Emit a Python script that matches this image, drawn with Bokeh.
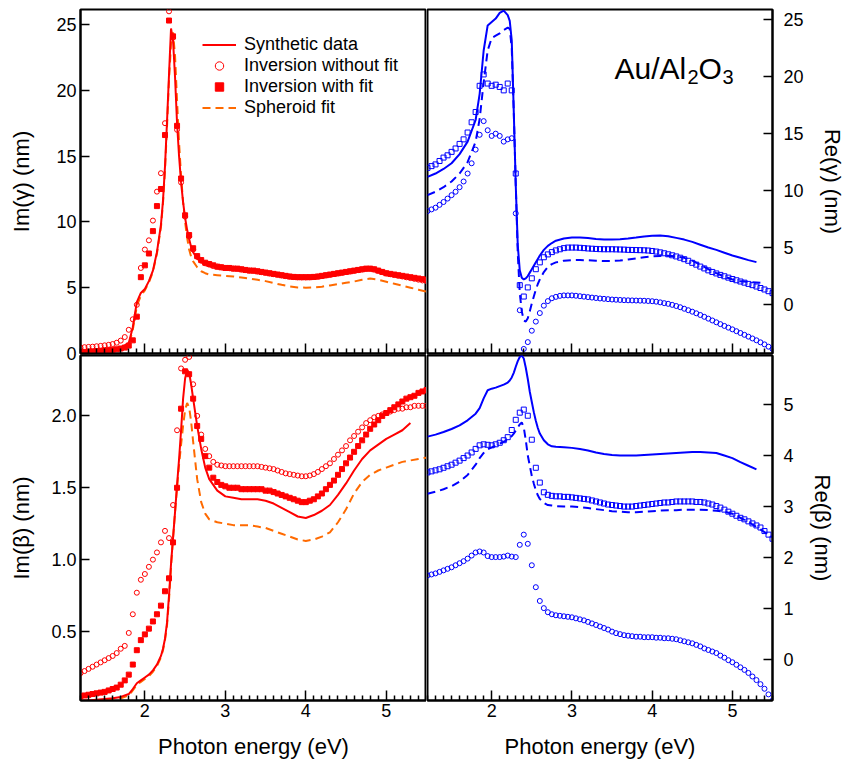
import numpy as np
from bokeh.plotting import figure
from bokeh.layouts import column, row
from bokeh.models import FixedTicker, Legend, LegendItem, Label, Range1d, PrintfTickFormatter
from bokeh.embed import file_html
from bokeh.resources import INLINE

FONT = "Liberation Sans"
RED = "#ff0000"
ORANGE = "#ff6a00"
BLUE = "#0000ff"

# ---------------- data ----------------
# photon energy grid of the smooth curves (eV)
line_energy = [1.2, 1.3, 1.4, 1.5, 1.6, 1.7, 1.8,
               1.85, 1.9, 1.95, 2.0, 2.05, 2.1, 2.15, 2.2,
               2.225, 2.25, 2.275, 2.3, 2.325, 2.35, 2.375, 2.4, 2.425, 2.45, 2.475, 2.5, 2.525, 2.55, 2.575, 2.6,
               2.65, 2.7, 2.75, 2.8,
               2.9, 3.0, 3.1, 3.2, 3.3, 3.4, 3.5, 3.6, 3.7, 3.8, 3.9, 4.0, 4.1, 4.2, 4.3, 4.4, 4.5, 4.6, 4.7, 4.8,
               4.9, 5.0, 5.1, 5.2, 5.3, 5.4, 5.5]

# photon energy grid of the inversion points (eV)
point_energy = [1.2, 1.25, 1.3, 1.35, 1.4, 1.45, 1.5, 1.55, 1.6, 1.65,
                1.7, 1.75, 1.8, 1.85, 1.9, 1.95, 2.0, 2.05, 2.1, 2.15,
                2.2, 2.25, 2.3, 2.35, 2.4, 2.45, 2.5, 2.55, 2.6, 2.65,
                2.7, 2.75, 2.8, 2.85, 2.9, 2.95, 3.0, 3.05, 3.1, 3.15,
                3.2, 3.25, 3.3, 3.35, 3.4, 3.45, 3.5, 3.55, 3.6, 3.65,
                3.7, 3.75, 3.8, 3.85, 3.9, 3.95, 4.0, 4.05, 4.1, 4.15,
                4.2, 4.25, 4.3, 4.35, 4.4, 4.45, 4.5, 4.55, 4.6, 4.65,
                4.7, 4.75, 4.8, 4.85, 4.9, 4.95, 5.0, 5.05, 5.1, 5.15,
                5.2, 5.25, 5.3, 5.35, 5.4, 5.45, 5.5]

# ---- Im(gamma) ----
im_gamma_synthetic = [0.15, 0.17, 0.2, 0.24, 0.3, 0.42, 0.8,
                      2.0, 3.9, 4.6, 4.9, 5.5, 6.3, 7.7, 9.8,
                      11.6, 14.2, 17.6, 21.2, 24.7, 23.8, 21.0, 17.5, 15.0, 13.0, 11.5, 10.3, 9.4, 8.7, 8.1, 7.7,
                      7.2, 6.95, 6.8, 6.7,
                      6.6, 6.5, 6.45, 6.4, 6.3, 6.25, 6.15, 6.05, 5.95, 5.85, 5.8, 5.8, 5.82, 5.9, 6.0, 6.1, 6.2, 6.3,
                      6.4, 6.45, 6.3, 6.1, 6.0, 5.9, 5.8, 5.7, 5.6]
im_gamma_spheroid = [0.05, 0.07, 0.1, 0.13, 0.18, 0.3, 0.65,
                     1.8, 3.6, 4.4, 4.8, 5.4, 6.2, 7.6, 9.6,
                     11.4, 13.9, 17.2, 20.8, 23.5, 24.4, 22.6, 19.2, 16.0, 13.5, 11.5, 10.0, 8.8, 7.9, 7.35, 7.0,
                     6.55, 6.25, 6.1, 6.0,
                     5.95, 5.9, 5.85, 5.78, 5.7, 5.6, 5.5, 5.35, 5.22, 5.1, 5.02, 5.0, 5.02, 5.08, 5.17, 5.27, 5.37,
                     5.47, 5.6, 5.7, 5.6, 5.45, 5.3, 5.15, 5.0, 4.85, 4.7]
im_gamma_without_fit = [0.45, 0.48, 0.5, 0.52, 0.55, 0.58, 0.62, 0.66, 0.72, 0.82,
                        0.98, 1.25, 1.8, 2.6, 3.7, 6.5, 7.9, 8.6, 10.1, 12.3,
                        13.7, 17.5, 26.0, 24.0, 17.0, 13.0, 10.4, 8.9, 7.9, 7.35,
                        7.05, 6.85, 6.75, 6.65, 6.6, 6.55, 6.5, 6.48, 6.45, 6.42,
                        6.38, 6.34, 6.3, 6.27, 6.23, 6.18, 6.13, 6.08, 6.03, 5.98,
                        5.93, 5.88, 5.84, 5.81, 5.79, 5.78, 5.78, 5.79, 5.81, 5.84,
                        5.88, 5.93, 5.98, 6.03, 6.08, 6.13, 6.18, 6.23, 6.28, 6.33,
                        6.38, 6.42, 6.43, 6.38, 6.28, 6.18, 6.08, 6.02, 5.96, 5.9,
                        5.85, 5.79, 5.73, 5.67, 5.61, 5.55, 5.5]
im_gamma_with_fit = [0.10, 0.12, 0.14, 0.16, 0.18, 0.20, 0.22, 0.25, 0.28, 0.32,
                     0.38, 0.45, 0.60, 1.0, 2.8, 5.8, 6.7, 7.6, 9.3, 11.2,
                     12.5, 16.6, 25.3, 24.1, 17.3, 13.3, 10.5, 9.0, 8.0, 7.4,
                     7.1, 6.9, 6.8, 6.7, 6.6, 6.55, 6.5, 6.5, 6.45, 6.45,
                     6.4, 6.35, 6.3, 6.3, 6.25, 6.2, 6.15, 6.1, 6.05, 6.0,
                     5.95, 5.9, 5.85, 5.82, 5.8, 5.8, 5.8, 5.8, 5.82, 5.85,
                     5.9, 5.95, 6.0, 6.05, 6.1, 6.15, 6.2, 6.25, 6.3, 6.35,
                     6.4, 6.45, 6.45, 6.4, 6.3, 6.2, 6.1, 6.05, 6.0, 5.95,
                     5.9, 5.85, 5.8, 5.75, 5.7, 5.65, 5.6]

# ---- Re(gamma) ----
re_gamma_synthetic = [11.2, 11.5, 11.9, 12.4, 13.2, 14.3, 16.2,
                      18.5, 22.3, 24.5, 24.8, 25.1, 25.6, 25.8, 25.4,
                      24.9, 23.2, 17.0, 10.5, 5.2, 3.0, 2.35, 2.2, 2.3, 2.5, 2.8, 3.1, 3.4, 3.7, 4.0, 4.3,
                      4.8, 5.15, 5.4, 5.6,
                      5.8, 5.88, 5.88, 5.83, 5.75, 5.7, 5.7, 5.73, 5.8, 5.88, 5.97, 6.03, 6.05, 6.0, 5.85, 5.7, 5.5,
                      5.25, 5.0, 4.8, 4.55, 4.3, 4.1, 3.9, 3.72, None, None]
re_gamma_spheroid = [9.6, 9.9, 10.3, 10.8, 11.5, 12.5, 14.3,
                     16.3, 19.5, 22.3, 23.4, 23.6, 23.8, 24.1, 24.3,
                     24.2, 22.5, 17.0, 10.5, 4.5, 1.0, -0.6, -1.4, -1.5, -1.2, -0.6, 0.1, 0.7, 1.3, 1.8, 2.2,
                     2.85, 3.3, 3.55, 3.7,
                     3.85, 3.9, 3.9, 3.88, 3.85, 3.82, 3.82, 3.86, 3.95, 4.05, 4.15, 4.22, 4.27, 4.28, 4.22, 4.1,
                     3.85, 3.5, 3.1, 2.75, 2.45, 2.2, 2.05, 1.98, 1.93, 1.88, None]
re_gamma_without_fit = [8.2, 8.35, 8.5, 8.75, 9.0, 9.3, 9.6, 9.9, 10.3, 10.8,
                        11.5, 12.4, 13.6, 14.9, 16.1, 15.3, 14.8, 15.0, 14.8, 14.3,
                        14.5, 14.6, 8.0, -0.5, -3.9, -3.3, -2.3, -1.5, -0.75, -0.1,
                        0.3, 0.55, 0.67, 0.76, 0.8, 0.8, 0.8, 0.77, 0.73, 0.69,
                        0.65, 0.61, 0.57, 0.53, 0.5, 0.47, 0.44, 0.42, 0.4, 0.38,
                        0.37, 0.36, 0.35, 0.34, 0.33, 0.31, 0.29, 0.25, 0.19, 0.12,
                        0.06, -0.03, -0.13, -0.24, -0.37, -0.5, -0.63, -0.77, -0.92, -1.08,
                        -1.24, -1.4, -1.56, -1.72, -1.88, -2.03, -2.18, -2.34, -2.5, -2.66,
                        -2.82, -2.98, -3.14, -3.32, -3.5, -3.7, -3.9]
re_gamma_with_fit = [12.0, 12.15, 12.3, 12.6, 12.9, 13.1, 13.4, 13.7, 14.1, 14.5,
                     15.1, 16.0, 16.9, 19.2, 20.2, 19.4, 19.2, 19.3, 19.1, 18.8,
                     19.4, 18.8, 11.5, 1.7, 0.7, 1.5, 2.3, 3.1, 3.7, 4.15,
                     4.4, 4.6, 4.75, 4.85, 4.95, 5.0, 5.0, 5.0, 4.98, 4.95,
                     4.92, 4.9, 4.88, 4.86, 4.85, 4.85, 4.85, 4.84, 4.83, 4.82,
                     4.8, 4.79, 4.78, 4.77, 4.76, 4.74, 4.7, 4.65, 4.58, 4.5,
                     4.41, 4.32, 4.22, 4.11, 3.98, 3.84, 3.66, 3.5, 3.33, 3.17,
                     3.0, 2.86, 2.73, 2.6, 2.48, 2.36, 2.24, 2.13, 2.02, 1.92,
                     1.81, 1.7, 1.58, 1.45, 1.32, 1.17, 1.0]

# ---- Im(beta) ----
im_beta_synthetic = [0.02, 0.02, 0.025, 0.03, 0.035, 0.045, 0.065,
                     0.1, 0.14, 0.16, 0.18, 0.2, 0.23, 0.27, 0.33,
                     0.38, 0.45, 0.56, 0.75, 0.97, 1.15, 1.33, 1.52, 1.7, 1.9, 2.12, 2.26, 2.32, 2.3, 2.22, 2.12,
                     1.93, 1.77, 1.64, 1.56,
                     1.48, 1.44, 1.43, 1.42, 1.42, 1.42, 1.41, 1.39, 1.36, 1.33, 1.3, 1.29, 1.31, 1.34, 1.38, 1.45,
                     1.53, 1.62, 1.7, 1.76, 1.8, 1.84, 1.87, 1.9, 1.95, None, None]
im_beta_spheroid = [0.01, 0.012, 0.015, 0.02, 0.025, 0.035, 0.055,
                    0.09, 0.13, 0.15, 0.17, 0.19, 0.22, 0.26, 0.32,
                    0.37, 0.44, 0.54, 0.72, 0.95, 1.15, 1.33, 1.5, 1.66, 1.8, 1.93, 2.04, 2.09, 2.06, 1.96, 1.82,
                    1.56, 1.4, 1.32, 1.28,
                    1.26, 1.25, 1.24, 1.24, 1.24, 1.23, 1.22, 1.2, 1.18, 1.16, 1.14, 1.13, 1.14, 1.16, 1.19, 1.26,
                    1.35, 1.46, 1.54, 1.59, 1.62, 1.64, 1.66, 1.68, 1.69, 1.7, 1.71]
im_beta_without_fit = [0.21, 0.225, 0.24, 0.255, 0.27, 0.285, 0.3, 0.315, 0.33, 0.35,
                       0.38, 0.4, 0.49, 0.62, 0.77, 0.86, 0.9, 0.95, 1.0, 1.05,
                       1.12, 1.2, 1.15, 1.38, 1.9, 2.33, 2.39, 2.41, 2.22, 2.0,
                       1.87, 1.77, 1.72, 1.68, 1.66, 1.655, 1.65, 1.65, 1.65, 1.65,
                       1.65, 1.65, 1.65, 1.65, 1.65, 1.645, 1.64, 1.635, 1.63, 1.62,
                       1.61, 1.6, 1.595, 1.59, 1.585, 1.58, 1.58, 1.585, 1.595, 1.61,
                       1.63, 1.65, 1.67, 1.7, 1.73, 1.76, 1.79, 1.83, 1.86, 1.89,
                       1.92, 1.95, 1.97, 1.99, 2.0, 2.01, 2.02, 2.03, 2.04, 2.05,
                       2.05, 2.06, 2.06, 2.07, 2.07, 2.07, 2.07]
im_beta_with_fit = [0.05, 0.055, 0.06, 0.065, 0.07, 0.075, 0.08, 0.09, 0.1, 0.11,
                    0.13, 0.16, 0.2, 0.27, 0.37, 0.44, 0.48, 0.52, 0.57, 0.62,
                    0.68, 0.78, 0.87, 1.12, 1.5, 2.05, 2.31, 2.29, 2.12, 1.93,
                    1.84, 1.72, 1.64, 1.57, 1.54, 1.52, 1.51, 1.5, 1.5, 1.5,
                    1.49, 1.49, 1.49, 1.49, 1.49, 1.49, 1.48, 1.48, 1.47, 1.46,
                    1.45, 1.44, 1.43, 1.42, 1.41, 1.4, 1.4, 1.41, 1.42, 1.44,
                    1.46, 1.49, 1.52, 1.55, 1.59, 1.63, 1.67, 1.71, 1.75, 1.79,
                    1.83, 1.87, 1.91, 1.94, 1.97, 2.0, 2.02, 2.04, 2.06, 2.08,
                    2.1, 2.12, 2.13, 2.14, 2.16, 2.17, 2.18]

# ---- Re(beta) ----
re_beta_synthetic = [4.37, 4.41, 4.46, 4.52, 4.59, 4.69, 4.82,
                     4.93, 5.12, 5.28, 5.31, 5.33, 5.36, 5.39, 5.43,
                     5.47, 5.53, 5.62, 5.74, 5.85, 5.93, 5.96, 5.9, 5.72, 5.5, 5.25, 5.05, 4.85, 4.68, 4.54, 4.43,
                     4.3, 4.22, 4.18, 4.17,
                     4.16, 4.15, 4.13, 4.1, 4.06, 4.03, 4.01, 4.0, 4.0, 4.0, 4.01, 4.02, 4.03, 4.04, 4.05, 4.06,
                     4.07, 4.07, 4.06, 4.05, 4.0, 3.95, 3.87, 3.8, 3.73, None, None]
re_beta_spheroid = [3.25, 3.29, 3.34, 3.4, 3.49, 3.62, 3.82,
                    3.95, 4.05, 4.12, 4.16, 4.19, 4.23, 4.27, 4.31,
                    4.34, 4.38, 4.43, 4.49, 4.55, 4.61, 4.65, 4.55, 4.3, 4.0, 3.8, 3.6, 3.45, 3.32, 3.22, 3.15,
                    3.07, 3.03, 3.02, 3.01,
                    3.0, 3.0, 2.99, 2.97, 2.95, 2.93, 2.91, 2.9, 2.89, 2.89, 2.9, 2.91, 2.92, 2.93, 2.93, 2.94,
                    2.94, 2.94, 2.93, 2.92, 2.9, 2.86, 2.78, 2.7, 2.6, 2.5, 2.4]
re_beta_without_fit = [1.65, 1.67, 1.69, 1.72, 1.75, 1.78, 1.81, 1.85, 1.89, 1.93,
                       1.98, 2.04, 2.1, 2.12, 2.1, 2.03, 2.01, 2.01, 2.01, 2.02,
                       2.04, 2.02, 2.01, 2.25, 2.45, 2.27, 1.85, 1.42, 1.15, 1.01,
                       0.93, 0.89, 0.87, 0.86, 0.85, 0.84, 0.83, 0.81, 0.79, 0.77,
                       0.74, 0.71, 0.68, 0.65, 0.62, 0.59, 0.55, 0.52, 0.5, 0.48,
                       0.47, 0.46, 0.45, 0.45, 0.44, 0.44, 0.44, 0.43, 0.43, 0.42,
                       0.42, 0.41, 0.4, 0.38, 0.36, 0.34, 0.32, 0.29, 0.26, 0.22,
                       0.19, 0.16, 0.13, 0.08, 0.04, -0.01, -0.05, -0.1, -0.15, -0.2,
                       -0.26, -0.33, -0.4, -0.48, -0.57, -0.68, -0.8]
re_beta_with_fit = [3.67, 3.69, 3.71, 3.73, 3.76, 3.79, 3.82, 3.86, 3.9, 3.95,
                    4.0, 4.06, 4.13, 4.2, 4.22, 4.21, 4.2, 4.22, 4.25, 4.3,
                    4.36, 4.5, 4.7, 4.84, 4.9, 4.78, 4.31, 3.76, 3.47, 3.28,
                    3.23, 3.21, 3.2, 3.2, 3.19, 3.19, 3.18, 3.17, 3.16, 3.15,
                    3.14, 3.12, 3.1, 3.08, 3.06, 3.04, 3.03, 3.02, 3.01, 3.0,
                    3.0, 3.0, 3.01, 3.02, 3.03, 3.04, 3.05, 3.06, 3.07, 3.08,
                    3.08, 3.09, 3.1, 3.1, 3.1, 3.1, 3.1, 3.09, 3.09, 3.08,
                    3.06, 3.04, 3.01, 2.98, 2.94, 2.9, 2.86, 2.82, 2.78, 2.75,
                    2.71, 2.67, 2.63, 2.59, 2.52, 2.45, 2.37]

x_major_ticks = [2, 3, 4, 5]
im_gamma_ticks = [0, 5, 10, 15, 20, 25]
re_gamma_ticks = [0, 5, 10, 15, 20, 25]
im_beta_ticks = [0.5, 1.0, 1.5, 2.0]
re_beta_ticks = [0, 1, 2, 3, 4, 5]

# ---------------- helpers ----------------
minor_x = [round(1.2 + 0.1 * i, 1) for i in range(44)]
minor_x = [v for v in minor_x if v not in x_major_ticks]

TICK_FS = "18px"
LABEL_FS = "22px"
OVERLAP = 12   # extra room below the upper panels so that the "0" label is not cut


def arr(v):
    return np.array(v, dtype=float)


def make_panel(yrange, frame_w, frame_h, side, top, bottom, left, right, transparent_border=False):
    p = figure(frame_width=frame_w, frame_height=frame_h,
               x_range=Range1d(1.2, 5.5), y_range=Range1d(*yrange),
               y_axis_location=side, output_backend="svg", toolbar_location=None,
               min_border_left=left, min_border_right=right,
               min_border_top=top, min_border_bottom=bottom)
    p.xgrid.visible = False
    p.ygrid.visible = False
    p.outline_line_color = "black"
    p.outline_line_width = 2
    p.outline_line_alpha = 1.0
    p.background_fill_color = "white"
    if transparent_border:
        p.border_fill_alpha = 0
    else:
        p.border_fill_color = "white"
    return p


def style_x(p, show_labels):
    ax = p.xaxis[0]
    ax.ticker = FixedTicker(ticks=x_major_ticks, minor_ticks=minor_x)
    ax.axis_line_width = 2
    ax.axis_line_color = "black"
    ax.major_tick_in = 10
    ax.major_tick_out = 0
    ax.minor_tick_in = 5
    ax.minor_tick_out = 0
    ax.major_tick_line_width = 1.5
    ax.minor_tick_line_width = 1.5
    ax.major_tick_line_color = "black"
    ax.minor_tick_line_color = "black"
    ax.major_label_text_font = FONT
    ax.major_label_text_font_size = TICK_FS
    if show_labels:
        ax.major_label_text_color = "black"
        ax.major_label_standoff = 3
        ax.axis_label = "Photon energy (eV)"
        ax.axis_label_text_font = FONT
        ax.axis_label_text_font_size = LABEL_FS
        ax.axis_label_text_font_style = "normal"
        ax.axis_label_text_color = "black"
        ax.axis_label_standoff = 14
    else:
        ax.major_label_text_color = None
        ax.major_label_standoff = 0


def style_y(p, ticks, label, standoff, label_standoff, fmt=None):
    ax = p.yaxis[0]
    ax.ticker = FixedTicker(ticks=ticks, minor_ticks=[])
    if fmt is not None:
        ax.formatter = PrintfTickFormatter(format=fmt)
    ax.axis_line_width = 2
    ax.axis_line_color = "black"
    ax.major_tick_in = 9
    ax.major_tick_out = 0
    ax.minor_tick_in = 0
    ax.minor_tick_out = 0
    ax.major_tick_line_width = 1.5
    ax.major_tick_line_color = "black"
    ax.major_label_text_font = FONT
    ax.major_label_text_font_size = TICK_FS
    ax.major_label_text_color = "black"
    ax.major_label_standoff = standoff
    ax.axis_label = label
    ax.axis_label_text_font = FONT
    ax.axis_label_text_font_size = LABEL_FS
    ax.axis_label_text_font_style = "normal"
    ax.axis_label_text_color = "black"
    ax.axis_label_standoff = label_standoff


def draw(p, color, dash_color, syn, sph, nofit, fit, fit_filled):
    lx = line_energy
    px = point_energy
    r_sph = p.line(lx, arr(sph), line_color=dash_color, line_width=2, line_dash="8 5")
    r_syn = p.line(lx, arr(syn), line_color=color, line_width=2)
    r_nofit = p.scatter(px, arr(nofit), marker="circle", size=5, fill_color=None,
                        line_color=color, line_width=1)
    r_fit = p.scatter(px, arr(fit), marker="square", size=5,
                      fill_color=color if fit_filled else None,
                      line_color=color, line_width=1)
    return r_syn, r_nofit, r_fit, r_sph


# ---------------- panels ----------------
p_tl = make_panel((0, 26.14), 346, 344, "left", 9, OVERLAP, 80, 0)
p_tr = make_panel((-4.3, 25.9), 345, 344, "right", 9, OVERLAP, 1, 79)
p_bl = make_panel((0.02, 2.42), 346, 345, "left", 2, 67, 80, 0, transparent_border=True)
p_br = make_panel((-0.8, 5.96), 345, 345, "right", 2, 67, 1, 79, transparent_border=True)

style_x(p_tl, False)
style_x(p_tr, False)
style_x(p_bl, True)
style_x(p_br, True)

style_y(p_tl, im_gamma_ticks, "Im(γ) (nm)", 4, 19)
style_y(p_tr, re_gamma_ticks, "Re(γ) (nm)", 11, 13)
style_y(p_bl, im_beta_ticks, "Im(β) (nm)", 4, 14, "%.1f")
style_y(p_br, re_beta_ticks, "Re(β) (nm)", 11, 13)

r_syn, r_nofit, r_fit, r_sph = draw(p_tl, RED, ORANGE, im_gamma_synthetic, im_gamma_spheroid,
                                    im_gamma_without_fit, im_gamma_with_fit, True)
draw(p_tr, BLUE, BLUE, re_gamma_synthetic, re_gamma_spheroid,
     re_gamma_without_fit, re_gamma_with_fit, False)
draw(p_bl, RED, ORANGE, im_beta_synthetic, im_beta_spheroid,
     im_beta_without_fit, im_beta_with_fit, True)
draw(p_br, BLUE, BLUE, re_beta_synthetic, re_beta_spheroid,
     re_beta_without_fit, re_beta_with_fit, False)

legend = Legend(items=[
    LegendItem(label="Synthetic data", renderers=[r_syn]),
    LegendItem(label="Inversion without fit", renderers=[r_nofit]),
    LegendItem(label="Inversion with fit", renderers=[r_fit]),
    LegendItem(label="Spheroid fit", renderers=[r_sph]),
], location=(122, 235))
legend.label_text_font = FONT
legend.label_text_font_size = "18px"
legend.label_text_color = "black"
legend.glyph_width = 34
legend.glyph_height = 21
legend.label_height = 21
legend.label_standoff = 8
legend.spacing = 0
legend.padding = 5
legend.margin = 0
legend.border_line_color = None
legend.background_fill_alpha = 0
p_tl.add_layout(legend)

# material label Au/Al2O3 (with subscripts)
for txt, xx, yy, fs in [("Au/Al", 3.531, 20.75, "30px"), ("2", 4.441, 19.95, "20px"),
                        ("O", 4.578, 20.75, "30px"), ("3", 4.877, 19.95, "20px")]:
    p_tr.add_layout(Label(x=xx, y=yy, text=txt, text_font=FONT, text_font_size=fs,
                          text_color="black", text_baseline="alphabetic", text_align="left"))

top_row = row(p_tl, p_tr, spacing=0)
bottom_row = row(p_bl, p_br, spacing=0, styles={"margin-top": f"-{OVERLAP}px"})
layout = column(top_row, bottom_row, spacing=0)

open("out.html", "w").write(file_html(layout, INLINE))
